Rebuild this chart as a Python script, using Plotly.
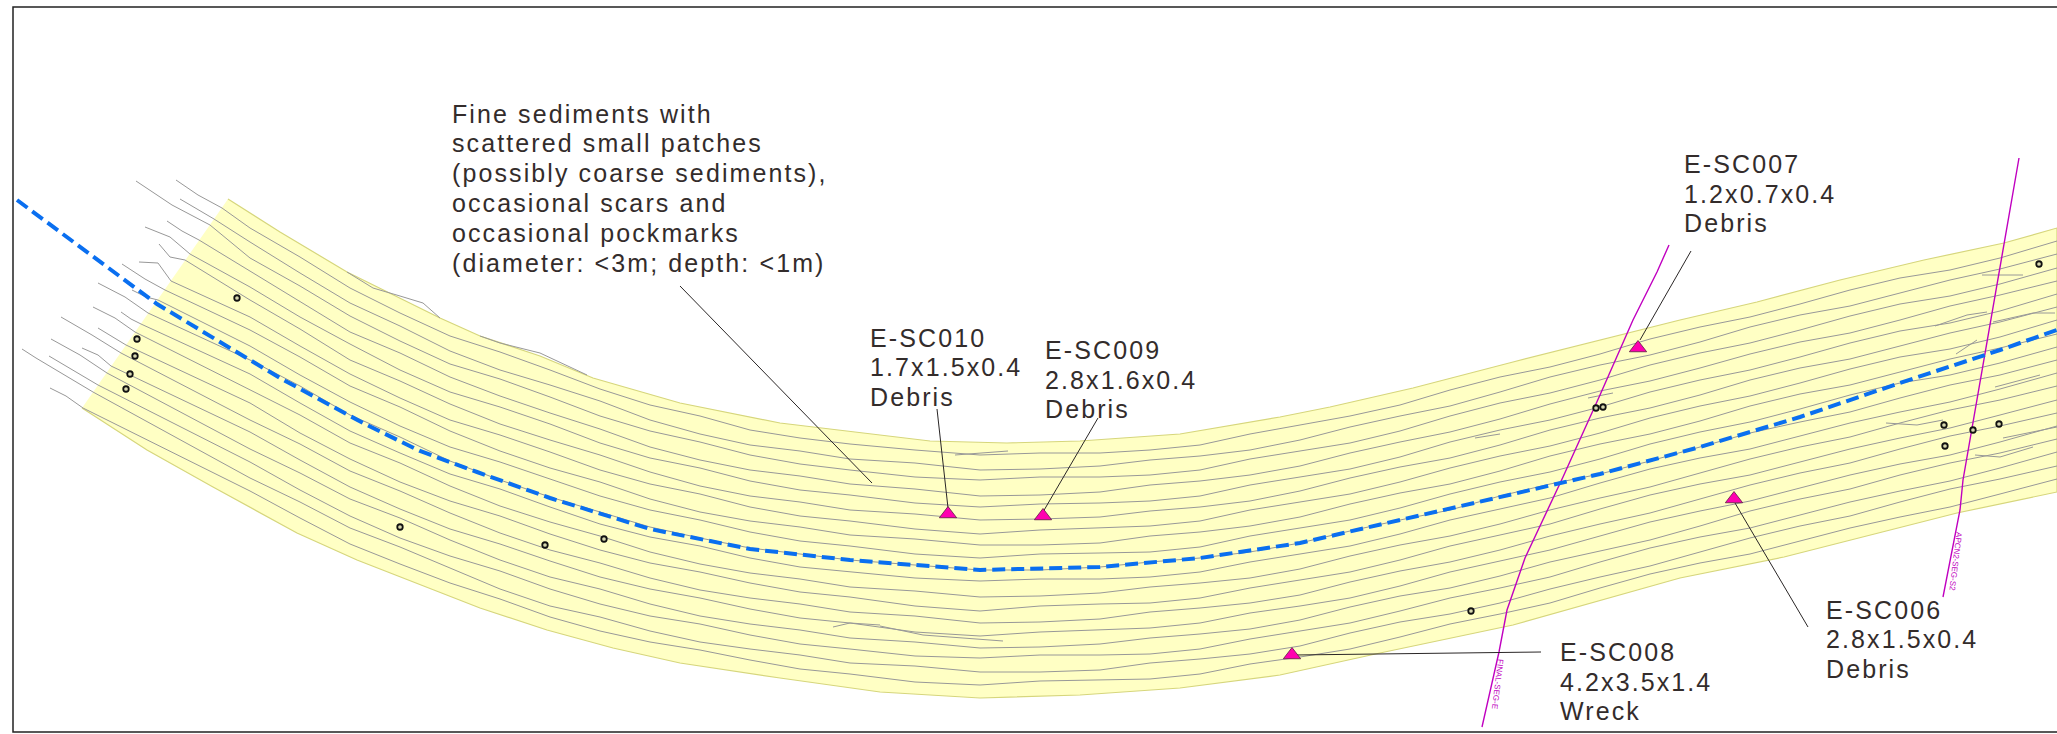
import plotly.graph_objects as go

# Values, in the drawing's own units (x to the right, y downward)
EDGE_TOP_X = [228, 280, 347, 440, 480, 540, 593, 680, 780, 880, 930, 1007, 1080, 1180, 1280, 1330, 1413, 1513, 1627, 1680, 1757, 1840, 1924, 2004, 2057]
EDGE_TOP_Y = [199, 232, 272, 318, 336, 356, 378, 403, 423, 435, 441, 443, 441, 434, 417, 407, 388, 362, 333, 320, 302, 280, 260, 243, 228]
EDGE_BOT_X = [82, 147, 213, 297, 357, 480, 547, 613, 680, 780, 880, 980, 1080, 1180, 1280, 1380, 1513, 1680, 1784, 1957, 2057]
EDGE_BOT_Y = [408, 450, 487, 533, 560, 608, 630, 648, 663, 678, 692, 698, 695, 688, 675, 653, 625, 578, 557, 513, 492]

STATIONS = [250, 300, 350, 400, 450, 500, 550, 600, 650, 700, 750, 800, 850, 915, 980, 1040, 1100, 1150, 1200, 1250,
            1300, 1350, 1400, 1450, 1500, 1550, 1600, 1650, 1700, 1750, 1800, 1850, 1900, 1950, 2000, 2057]
Y_250 = [228, 242, 258, 271, 287, 300, 317, 330, 346, 360, 374, 390, 403, 420, 432, 449, 462, 478, 491]
Y_300 = [257, 273, 286, 302, 317, 329, 346, 357, 375, 386, 403, 415, 433, 444, 460, 473, 490, 502, 518]
Y_350 = [288, 303, 316, 332, 344, 360, 374, 386, 402, 415, 431, 443, 459, 471, 487, 499, 516, 528, 544]
Y_400 = [313, 326, 341, 353, 370, 381, 398, 407, 426, 437, 453, 463, 482, 491, 509, 518, 538, 547, 564]
Y_450 = [336, 351, 364, 377, 392, 404, 420, 431, 447, 461, 474, 486, 501, 513, 529, 540, 556, 568, 583]
Y_500 = [352, 370, 379, 396, 407, 424, 435, 451, 462, 480, 489, 506, 516, 533, 544, 560, 571, 589, 599]
Y_550 = [370, 385, 397, 413, 424, 440, 452, 468, 479, 497, 507, 522, 534, 550, 561, 577, 589, 606, 617]
Y_600 = [389, 401, 416, 429, 443, 455, 470, 482, 496, 512, 524, 536, 550, 563, 577, 589, 604, 617, 631]
Y_650 = [405, 420, 431, 447, 458, 472, 484, 499, 510, 527, 537, 552, 563, 578, 589, 604, 616, 631, 642]
Y_700 = [416, 434, 442, 460, 468, 486, 494, 512, 520, 538, 546, 564, 572, 590, 598, 616, 624, 642, 650]
Y_750 = [430, 445, 455, 470, 481, 496, 507, 521, 532, 548, 558, 573, 583, 598, 609, 624, 635, 649, 660]
Y_800 = [438, 451, 464, 476, 490, 502, 516, 527, 541, 554, 567, 579, 592, 604, 618, 630, 644, 655, 669]
Y_850 = [444, 459, 470, 484, 495, 510, 521, 535, 546, 560, 572, 587, 597, 612, 623, 638, 649, 663, 674]
Y_915 = [450, 463, 477, 489, 503, 514, 529, 539, 554, 565, 578, 591, 606, 616, 632, 642, 656, 666, 682]
Y_980 = [455, 470, 480, 496, 507, 520, 534, 545, 558, 570, 581, 597, 611, 623, 636, 648, 658, 672, 685]
Y_1040 = [453, 469, 477, 495, 504, 519, 530, 545, 554, 570, 579, 596, 606, 622, 632, 647, 655, 672, 681]
Y_1100 = [453, 466, 477, 492, 503, 517, 528, 543, 553, 567, 579, 593, 604, 619, 630, 644, 655, 670, 680]
Y_1150 = [450, 460, 475, 485, 501, 511, 526, 536, 552, 562, 577, 587, 603, 612, 628, 638, 654, 663, 679]
Y_1200 = [445, 456, 470, 481, 496, 507, 521, 532, 547, 558, 572, 583, 598, 608, 623, 634, 649, 659, 674]
Y_1250 = [434, 450, 459, 475, 485, 501, 510, 526, 536, 552, 562, 578, 588, 603, 613, 629, 639, 654, 664]
Y_1300 = [425, 440, 451, 466, 477, 491, 502, 517, 528, 543, 554, 569, 580, 595, 606, 620, 631, 646, 657]
Y_1350 = [416, 427, 443, 453, 469, 478, 494, 504, 520, 531, 546, 556, 572, 582, 598, 607, 623, 633, 649]
Y_1400 = [405, 416, 431, 442, 457, 467, 482, 493, 508, 520, 534, 545, 560, 571, 586, 596, 611, 622, 637]
Y_1450 = [390, 406, 416, 432, 442, 458, 468, 484, 494, 510, 520, 536, 546, 562, 572, 588, 598, 614, 624]
Y_1500 = [377, 392, 403, 419, 430, 445, 456, 471, 482, 496, 509, 524, 535, 550, 561, 576, 588, 603, 614]
Y_1550 = [367, 377, 393, 404, 420, 430, 446, 456, 472, 484, 498, 510, 524, 536, 550, 562, 577, 589, 603]
Y_1600 = [354, 365, 380, 391, 407, 418, 433, 444, 459, 474, 483, 498, 509, 524, 536, 551, 562, 577, 588]
Y_1650 = [339, 355, 365, 381, 392, 408, 418, 434, 444, 461, 469, 487, 495, 513, 522, 540, 548, 566, 574]
Y_1700 = [327, 342, 353, 368, 380, 395, 406, 421, 432, 447, 458, 473, 484, 499, 511, 526, 537, 552, 563]
Y_1750 = [317, 327, 343, 354, 370, 380, 396, 406, 422, 433, 449, 459, 475, 485, 501, 511, 528, 538, 554]
Y_1800 = [304, 315, 330, 342, 357, 368, 383, 394, 409, 422, 436, 447, 462, 473, 488, 499, 515, 526, 541]
Y_1850 = [290, 306, 316, 333, 343, 359, 369, 385, 395, 412, 423, 437, 449, 463, 475, 489, 502, 516, 528]
Y_1900 = [278, 293, 304, 320, 331, 346, 357, 372, 383, 398, 412, 423, 438, 449, 464, 475, 491, 502, 517]
Y_1950 = [270, 280, 296, 306, 323, 333, 349, 359, 375, 385, 402, 410, 428, 436, 455, 463, 481, 489, 507]
Y_2000 = [258, 269, 284, 295, 311, 322, 337, 348, 363, 375, 389, 400, 415, 426, 442, 453, 468, 479, 494]
Y_2057 = [241, 254, 268, 281, 294, 307, 320, 334, 347, 360, 373, 386, 400, 413, 426, 439, 452, 466, 479]
STATION_ROWS = [Y_250, Y_300, Y_350, Y_400, Y_450, Y_500, Y_550, Y_600, Y_650, Y_700, Y_750, Y_800, Y_850, Y_915, Y_980,
                Y_1040, Y_1100, Y_1150, Y_1200, Y_1250, Y_1300, Y_1350, Y_1400, Y_1450, Y_1500, Y_1550, Y_1600, Y_1650,
                Y_1700, Y_1750, Y_1800, Y_1850, Y_1900, Y_1950, Y_2000, Y_2057]

TAIL_X = [[176, 198, 222], [180, 197, 214], [136, 172, 210], [167, 182, 199], [145, 170, 190], [159, 170, 185],
          [139, 158, 171], [122, 145, 165], [132, 146, 158], [98, 125, 148], [121, 131, 141], [93, 115, 135],
          [98, 113, 126], [61, 92, 121], [82, 98, 111], [51, 80, 107], [49, 74, 98], [22, 36, 93], [50, 66, 83]]
TAIL_Y = [[180, 195, 208], [199, 209, 219], [181, 205, 225], [221, 231, 240], [227, 237, 254], [244, 257, 260],
          [262, 263, 281], [264, 279, 290], [290, 297, 300], [283, 297, 313], [312, 319, 324], [307, 318, 332],
          [328, 337, 345], [317, 335, 353], [348, 355, 366], [339, 355, 373], [356, 371, 385], [349, 358, 392], [388, 396, 408]]

ROUTE_X = [17, 100, 157, 220, 280, 363, 420, 477, 550, 650, 750, 850, 980, 1100, 1200, 1300, 1400, 1500, 1600, 1700, 1800, 1900, 2000, 2057]
ROUTE_Y = [200, 262, 304, 342, 378, 423, 451, 472, 498, 529, 549, 560, 570, 567, 558, 543, 520, 496, 474, 447, 417, 383, 350, 330]

FINAL_X = [1482, 1499, 1507, 1525, 1563, 1600, 1633, 1657, 1669]
FINAL_Y = [727, 652, 610, 558, 477, 395, 320, 272, 245]
APCN_X = [1943, 1960, 1963, 2008, 2019]
APCN_Y = [597, 510, 480, 220, 158]

TARGET_X = [948, 1043, 1292, 1638, 1734]
TARGET_Y = [514, 516, 655, 348, 499]
RING_X = [237, 137, 135, 130, 126, 400, 545, 604, 1471, 1596, 1603, 2039, 1944, 1945, 1973, 1999]
RING_Y = [298, 339, 356, 374, 389, 527, 545, 539, 611, 408, 407, 264, 425, 446, 430, 424]

EXTRA_SEGMENTS = [
    ([347, 373, 400, 423, 440], [272, 288, 296, 303, 318]),
    ([480, 500, 540, 587], [336, 343, 353, 375]),
    ([955, 1008], [455, 451]),
    ([880, 923, 1003], [626, 635, 641]),
    ([833, 850, 880], [627, 623, 625]),
    ([1475, 1500], [438, 434]),
    ([1588, 1613], [398, 393]),
    ([1982, 2023], [275, 275]),
    ([1935, 1967, 1987], [326, 315, 312]),
    ([1956, 1977], [354, 340]),
    ([1886, 1917, 1943], [423, 425, 420]),
    ([1995, 2040], [387, 375]),
    ([1975, 2000, 2033], [455, 457, 447]),
    ([2003, 2057], [438, 427]),
    ([1993, 2033, 2055], [322, 313, 313]),
]

LEADERS = [
    ([680, 872], [286, 483]),
    ([937, 948], [409, 508]),
    ([1098, 1043], [418, 512]),
    ([1295, 1541], [655, 652]),
    ([1691, 1640], [251, 340]),
    ([1735, 1808], [503, 627]),
]

LABEL_TEXT = ["Fine sediments with", "scattered small patches", "(possibly coarse sediments),",
              "occasional scars and", "occasional pockmarks", "(diameter: <3m; depth: <1m)",
              "E-SC010", "1.7x1.5x0.4", "Debris",
              "E-SC009", "2.8x1.6x0.4", "Debris",
              "E-SC007", "1.2x0.7x0.4", "Debris",
              "E-SC008", "4.2x3.5x1.4", "Wreck",
              "E-SC006", "2.8x1.5x0.4", "Debris"]
LABEL_X = [450] * 6 + [868] * 3 + [1043] * 3 + [1682] * 3 + [1558] * 3 + [1824] * 3
LABEL_Y = [114, 143, 173, 203, 233, 263, 338, 367, 397, 350, 380, 409, 164, 194, 223, 652, 682, 711, 610, 639, 669]

CABLE_TEXT = ["FINAL-SEG-E", "APCN2-SEG-S2"]
CABLE_X = [1498, 1956]
CABLE_Y = [684, 561]

fig = go.Figure()

fig.add_trace(go.Scatter(
    x=EDGE_TOP_X + EDGE_BOT_X[::-1], y=EDGE_TOP_Y + EDGE_BOT_Y[::-1],
    mode="lines", fill="toself", fillcolor="#ffffc4",
    line=dict(color="#d6d67c", width=1.2), hoverinfo="skip", showlegend=False))

for i in range(19):
    xs = TAIL_X[i] + STATIONS
    ys = TAIL_Y[i] + [row[i] for row in STATION_ROWS]
    fig.add_trace(go.Scatter(x=xs, y=ys, mode="lines", line=dict(color="#989898", width=1),
                             hoverinfo="skip", showlegend=False))
for sx, sy in EXTRA_SEGMENTS:
    fig.add_trace(go.Scatter(x=sx, y=sy, mode="lines", line=dict(color="#989898", width=1),
                             hoverinfo="skip", showlegend=False))

for cx, cy in ((FINAL_X, FINAL_Y), (APCN_X, APCN_Y)):
    fig.add_trace(go.Scatter(x=cx, y=cy, mode="lines", line=dict(color="#c000c0", width=1.4),
                             hoverinfo="skip", showlegend=False))

fig.add_trace(go.Scatter(x=ROUTE_X, y=ROUTE_Y, mode="lines",
                         line=dict(color="#0a6ff0", width=4, dash="13px,6px"),
                         hoverinfo="skip", showlegend=False))

for lx, ly in LEADERS:
    fig.add_trace(go.Scatter(x=lx, y=ly, mode="lines", line=dict(color="#2a2626", width=1),
                             hoverinfo="skip", showlegend=False))

fig.add_trace(go.Scatter(x=RING_X, y=RING_Y, mode="markers",
                         marker=dict(symbol="circle", size=5.5, color="#d8d8b0", line=dict(color="#111111", width=1.8)),
                         hoverinfo="skip", showlegend=False))
fig.add_trace(go.Scatter(x=TARGET_X, y=TARGET_Y, mode="markers",
                         marker=dict(symbol="triangle-up", size=15, color="#ff00b0", line=dict(color="#5a2040", width=0.8)),
                         hoverinfo="skip", showlegend=False))

annotations = []
for t, x, y in zip(LABEL_TEXT, LABEL_X, LABEL_Y):
    annotations.append(dict(x=x, y=y, xref="x", yref="y", text=t.replace("<", "&lt;"), showarrow=False,
                            xanchor="left", yanchor="middle", align="left",
                            font=dict(family="Liberation Sans, Arial, sans-serif", size=25, color="#332c2b")))
for t, x, y in zip(CABLE_TEXT, CABLE_X, CABLE_Y):
    annotations.append(dict(x=x, y=y, xref="x", yref="y", text=t, showarrow=False, textangle=97,
                            xanchor="center", yanchor="middle",
                            font=dict(family="Liberation Sans, Arial, sans-serif", size=8, color="#c000c0")))

fig.update_layout(
    width=2057, height=734, margin=dict(l=0, r=0, t=0, b=0),
    paper_bgcolor="white", plot_bgcolor="white", showlegend=False,
    xaxis=dict(range=[0, 2057], visible=False, fixedrange=True),
    yaxis=dict(range=[734, 0], visible=False, fixedrange=True),
    annotations=annotations,
    shapes=[dict(type="path", path="M 2057 7 L 13 7 L 13 732 L 2057 732", xref="x", yref="y",
                 line=dict(color="#222222", width=1.5))],
)

post = """
document.body.style.margin = '0';
document.documentElement.style.overflow = 'hidden';
document.querySelectorAll('.annotation-text').forEach(function (t) {
  if (parseFloat(t.style.fontSize) > 20) { t.style.letterSpacing = '2.1px'; }
});
"""
fig.write_html("out.html", post_script=post, config={"displayModeBar": False})
